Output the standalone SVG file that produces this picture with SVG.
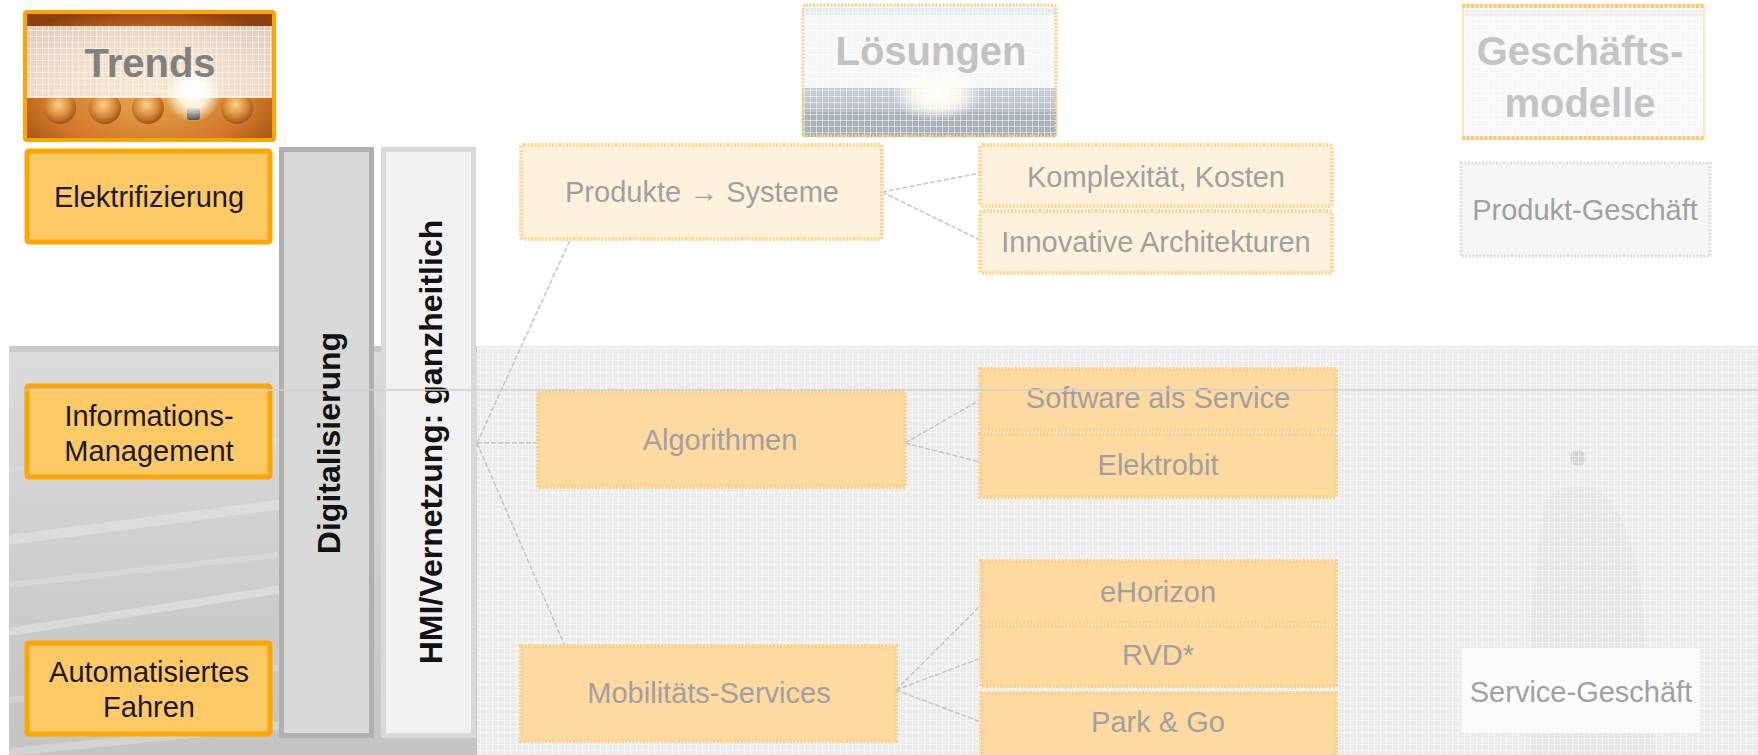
<svg xmlns="http://www.w3.org/2000/svg" width="1758" height="755" viewBox="0 0 1758 755">
<style>
  text { font-family: "Liberation Sans", Arial, sans-serif; }
  .trend rect { fill: #ffc966; stroke: #ffa500; stroke-width: 5; }
  .trend text { font-size: 29px; fill: #1a1a1a; text-anchor: middle; }
  .col text { font-size: 32px; font-weight: bold; fill: #111; text-anchor: middle; }
  .solT rect { fill: #fff2dc; stroke: #ffd38a; stroke-width: 4; stroke-dasharray: 2 1.5; }
  .solB rect { fill: #fed9a0; stroke: #ffcf80; stroke-width: 4; stroke-dasharray: 2 1.5; }
  .sol text, .biz text { font-size: 29px; fill: #a0a0a0; text-anchor: middle; }
  .head { font-size: 40px; font-weight: bold; text-anchor: middle; }
  .conn { stroke: #c4c4c4; stroke-width: 1.5; stroke-dasharray: 5 2; fill: none; }
</style>
<defs>
  <pattern id="grid" width="6" height="6" patternUnits="userSpaceOnUse">
    <path d="M0 0.5H6M0.5 0V6" stroke="#ffffff" stroke-width="1" stroke-opacity="0.55"/>
    <rect x="3" y="3" width="1" height="1" fill="#ffffff" fill-opacity="0.35"/>
  </pattern>
  <linearGradient id="photoL" x1="0" y1="0" x2="0" y2="1">
    <stop offset="0" stop-color="#dcdcdc"/>
    <stop offset="0.5" stop-color="#cfcfcf"/>
    <stop offset="1" stop-color="#c4c4c4"/>
  </linearGradient>
  <radialGradient id="trendBg" cx="0.5" cy="0.65" r="0.7">
    <stop offset="0" stop-color="#eba84e"/>
    <stop offset="0.6" stop-color="#d0782a"/>
    <stop offset="1" stop-color="#8e400c"/>
  </radialGradient>
  <radialGradient id="bulb" cx="0.45" cy="0.4" r="0.6">
    <stop offset="0" stop-color="#fbd38a"/>
    <stop offset="0.6" stop-color="#d98a3a"/>
    <stop offset="1" stop-color="#a2521a"/>
  </radialGradient>
  <radialGradient id="glow" cx="0.5" cy="0.5" r="0.5">
    <stop offset="0" stop-color="#ffffff"/>
    <stop offset="0.5" stop-color="#fffbe8" stop-opacity="0.9"/>
    <stop offset="1" stop-color="#ffffff" stop-opacity="0"/>
  </radialGradient>
  <linearGradient id="solBand" x1="0" y1="0" x2="0" y2="1">
    <stop offset="0" stop-color="#c3ccd6"/>
    <stop offset="1" stop-color="#a8b0ba"/>
  </linearGradient>
  <clipPath id="clipLoes"><rect x="802" y="4" width="255" height="133" rx="3"/></clipPath>
  <clipPath id="clipTrend"><rect x="25" y="12" width="249" height="128" rx="2"/></clipPath>
</defs>

<!-- background -->
<g id="background">
  <rect x="9" y="346" width="468" height="409" fill="url(#photoL)"/>
  <rect x="9" y="346" width="468" height="6" fill="#c9c9c9"/>
  <g stroke="#ffffff" stroke-linecap="round" fill="none">
    <path d="M9 540 L277 505" stroke-width="10" stroke-opacity="0.25"/>
    <path d="M9 585 L277 555" stroke-width="6" stroke-opacity="0.2"/>
    <path d="M9 632 L277 590" stroke-width="8" stroke-opacity="0.3"/>
    <path d="M9 700 L277 668" stroke-width="6" stroke-opacity="0.2"/>
    <path d="M9 752 L277 726" stroke-width="8" stroke-opacity="0.25"/>
    <path d="M9 470 L277 440" stroke-width="5" stroke-opacity="0.15"/>
  </g>
  <rect x="477" y="346" width="1281" height="409" fill="#ebebeb"/>
  <path d="M1545 500 Q1565 480 1595 488 Q1625 505 1640 580 L1655 755 L1530 755 Q1525 620 1545 500 Z" fill="#e5e5e5"/>
  <circle cx="1578" cy="458" r="8" fill="#d2d2d2"/>
  <rect x="477" y="346" width="1281" height="409" fill="url(#grid)"/>
</g>

<!-- trends header -->
<g id="trends-header">
  <g clip-path="url(#clipTrend)">
    <rect x="25" y="12" width="249" height="128" fill="url(#trendBg)"/>
    <circle cx="60" cy="108" r="16" fill="url(#bulb)"/>
    <circle cx="105" cy="108" r="16" fill="url(#bulb)"/>
    <circle cx="148" cy="108" r="16" fill="url(#bulb)"/>
    <circle cx="237" cy="108" r="16" fill="url(#bulb)"/>
    <rect x="187" y="108" width="13" height="12" rx="3" fill="#3a3a3a"/>
    <circle cx="193" cy="94" r="28" fill="url(#glow)"/>
    <rect x="25" y="26" width="249" height="72" fill="#ffffff" fill-opacity="0.72"/>
    <rect x="25" y="26" width="249" height="72" fill="url(#grid)"/>
  </g>
  <rect x="25" y="12" width="249" height="128" rx="2" fill="none" stroke="#ffa500" stroke-width="4"/>
  <text class="head" x="150" y="77" fill="#808080">Trends</text>
</g>

<!-- trend nodes -->
<g id="elektrifizierung" class="trend">
  <rect x="27" y="151" width="243" height="91" rx="2"/>
  <text x="149" y="207">Elektrifizierung</text>
</g>
<g id="informations-management" class="trend">
  <rect x="27" y="386" width="243" height="91" rx="2"/>
  <text x="149" y="426">Informations-</text>
  <text x="149" y="461">Management</text>
</g>
<g id="automatisiertes-fahren" class="trend">
  <rect x="27" y="643" width="243" height="91" rx="2"/>
  <text x="149" y="682">Automatisiertes</text>
  <text x="149" y="717">Fahren</text>
</g>

<!-- vertical columns -->
<g id="digitalisierung" class="col">
  <rect x="281.5" y="149.5" width="90" height="586" fill="#d9d9d9" stroke="#b0b0b0" stroke-width="5"/>
  <text transform="translate(340,443) rotate(-90)">Digitalisierung</text>
</g>
<g id="hmi-vernetzung" class="col">
  <rect x="383.5" y="149.5" width="90" height="586" fill="#f2f2f2" stroke="#d9d9d9" stroke-width="5"/>
  <text transform="translate(442,442) rotate(-90)">HMI/Vernetzung: ganzheitlich</text>
</g>

<!-- Loesungen header -->
<g id="loesungen-header">
  <g clip-path="url(#clipLoes)">
    <rect x="802" y="4" width="255" height="133" fill="#f6f7f8"/>
    <rect x="802" y="8" width="255" height="7" fill="#e2eaf2"/>
    <rect x="802" y="88" width="255" height="49" fill="url(#solBand)"/>
    <rect x="802" y="112" width="255" height="25" fill="#9ea6b0" fill-opacity="0.5"/>
    <ellipse cx="937" cy="95" rx="45" ry="26" fill="url(#glow)"/>
    <rect x="802" y="4" width="255" height="133" fill="url(#grid)"/>
  </g>
  <rect x="803" y="5" width="253" height="131" rx="3" fill="none" stroke="#ffcf80" stroke-width="3" stroke-dasharray="2 1.5"/>
  <text class="head" x="931" y="65" fill="#c2c2c2">Lösungen</text>
</g>

<!-- Geschaeftsmodelle header -->
<g id="geschaeftsmodelle-header">
  <rect x="1462" y="4" width="243" height="136" fill="#f8f8f8"/>
  <rect x="1462" y="10" width="243" height="6" fill="#ececec"/>
  <rect x="1462" y="4" width="243" height="136" fill="url(#grid)"/>
  <rect x="1463" y="5" width="241" height="134" fill="none" stroke="#ffe6bd" stroke-width="2"/>
  <path d="M1462 6H1705M1462 138H1705" stroke="#ffc870" stroke-width="4" stroke-dasharray="3 1.5"/>
  <text class="head" x="1580" y="65" fill="#c4c4c4">Geschäfts-</text>
  <text class="head" x="1580" y="117" fill="#c4c4c4">modelle</text>
</g>

<!-- connectors -->
<g id="connectors">
  <path class="conn" d="M882 192 L980 173"/>
  <path class="conn" d="M882 192 L980 240"/>
  <path class="conn" d="M905 443 L980 400"/>
  <path class="conn" d="M905 443 L980 462"/>
  <path class="conn" d="M896 690 L981 605"/>
  <path class="conn" d="M896 690 L981 658"/>
  <path class="conn" d="M896 690 L981 722"/>
  <path class="conn" d="M477 443 L570 240"/>
  <path class="conn" d="M477 443 L538 443"/>
  <path class="conn" d="M477 443 L565 646"/>
</g>

<!-- solution nodes -->
<g id="produkte-systeme" class="sol solT">
  <rect x="521" y="145" width="361" height="94" rx="3"/>
  <text x="702" y="202">Produkte → Systeme</text>
</g>
<g id="komplexitaet-kosten" class="sol solT">
  <rect x="980" y="145" width="352" height="61" rx="3"/>
  <text x="1156" y="187">Komplexität, Kosten</text>
</g>
<g id="innovative-architekturen" class="sol solT">
  <rect x="980" y="211" width="352" height="62" rx="3"/>
  <text x="1156" y="252">Innovative Architekturen</text>
</g>
<g id="algorithmen" class="sol solB">
  <rect x="538" y="392" width="367" height="95"/>
  <text x="720" y="450">Algorithmen</text>
</g>
<g id="software-als-service" class="sol solB">
  <rect x="980" y="369" width="356" height="61"/>
  <text x="1158" y="408">Software als Service</text>
</g>
<g id="elektrobit" class="sol solB">
  <rect x="980" y="434" width="356" height="63"/>
  <text x="1158" y="475">Elektrobit</text>
</g>
<g id="mobilitaets-services" class="sol solB">
  <rect x="521" y="646" width="375" height="95"/>
  <text x="709" y="703">Mobilitäts-Services</text>
</g>
<g id="ehorizon" class="sol solB">
  <rect x="981" y="561" width="355" height="62"/>
  <text x="1158" y="602">eHorizon</text>
</g>
<g id="rvd" class="sol solB">
  <rect x="981" y="626" width="355" height="60"/>
  <text x="1158" y="665">RVD*</text>
</g>
<g id="park-go" class="sol solB">
  <rect x="981" y="693" width="355" height="64"/>
  <text x="1158" y="732">Park &amp; Go</text>
</g>

<!-- business nodes -->
<g id="produkt-geschaeft" class="biz">
  <rect x="1461" y="163" width="249" height="93" fill="#f6f6f6" stroke="#dddddd" stroke-width="3" stroke-dasharray="2 1.5"/>
  <text x="1585" y="220">Produkt-Geschäft</text>
</g>
<g id="service-geschaeft" class="biz">
  <rect x="1462" y="648" width="238" height="85" fill="#fbfbfb"/>
  <text x="1581" y="702">Service-Geschäft</text>
</g>

<line x1="25" y1="390" x2="1758" y2="390" stroke="#cfcfcf" stroke-width="1.5"/>
</svg>
